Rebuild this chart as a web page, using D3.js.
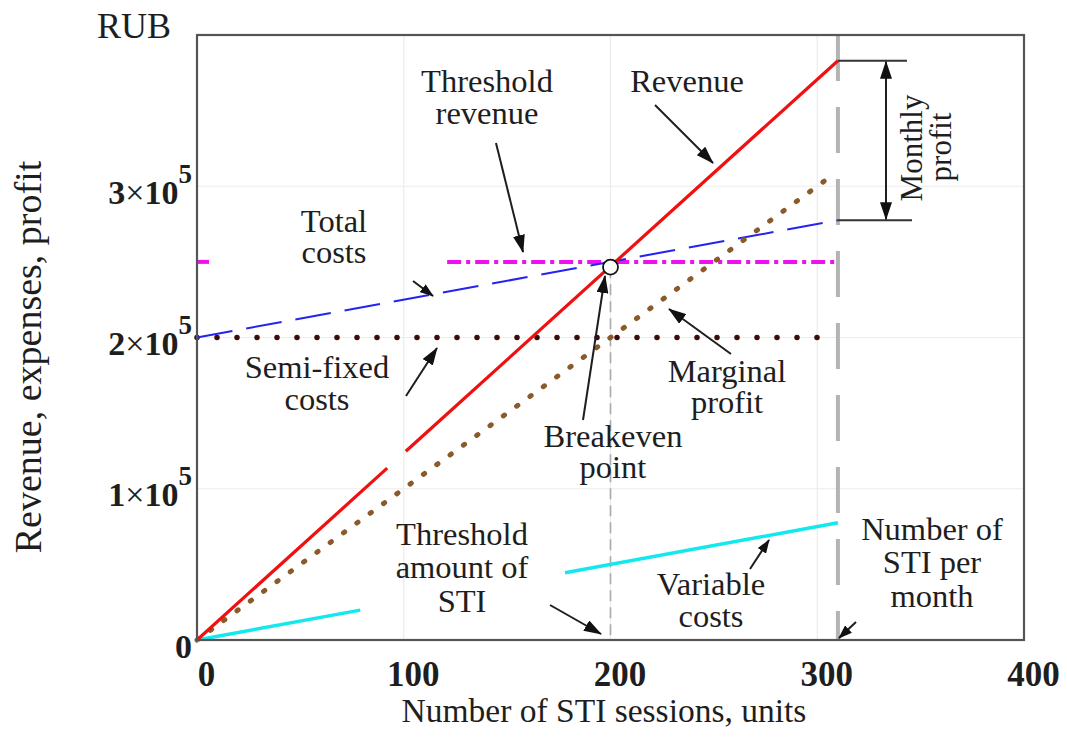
<!DOCTYPE html>
<html><head><meta charset="utf-8">
<script src="https://cdn.jsdelivr.net/npm/d3@7"></script>
<style>
body{margin:0;background:#fff}
svg{display:block}
text{font-family:"Liberation Serif","Times New Roman",serif;fill:#1e1e1e}
</style>
</head><body>
<svg id="c" width="1067" height="737"></svg>
<script>
// ---- data ----
const xTicks = [0, 100, 200, 300, 400];
const yTicks = [0, 100000, 200000, 300000];
const yTickMantissa = ["0", "1", "2", "3"];
const revenue1 = [[0, 0], [92, 113600]];
const revenue2 = [[101, 124800], [310, 383000]];
const totalCosts = [[0, 200000], [310, 277500]];
const thresholdRevenue1 = [[0, 250000], [8, 250000]];
const thresholdRevenue2 = [[121, 250000], [310, 250000]];
const semiFixedCosts = [[0, 200000], [302, 200000]];
const marginalProfit = [[0, 0], [305, 305000]];
const variableCosts1 = [[0, 0], [79, 19750]];
const variableCosts2 = [[178, 44500], [310, 77500]];
const breakeven = [200, 246500];
const monthlySTI = 310;

// ---- setup ----
const svg = d3.select("#c");
const L = 197, R = 1024, T = 35, B = 640;
const x = d3.scaleLinear().domain([0, 400]).range([L, R]);
const y = d3.scaleLinear().domain([0, 400000]).range([B, T]);
const line = d3.line().x(d => x(d[0])).y(d => y(d[1]));

const defs = svg.append("defs");
defs.append("marker").attr("id", "ah")
  .attr("viewBox", "0 0 18 12").attr("markerWidth", 18).attr("markerHeight", 12)
  .attr("refX", 17).attr("refY", 6).attr("orient", "auto-start-reverse")
  .attr("markerUnits", "userSpaceOnUse")
  .append("path").attr("d", "M0,0 L18,6 L0,12 Z").attr("fill", "#111");
defs.append("marker").attr("id", "ahs")
  .attr("viewBox", "0 0 14 10").attr("markerWidth", 14).attr("markerHeight", 10)
  .attr("refX", 13).attr("refY", 5).attr("orient", "auto-start-reverse")
  .attr("markerUnits", "userSpaceOnUse")
  .append("path").attr("d", "M0,0 L14,5 L0,10 Z").attr("fill", "#111");

// grid
const grid = svg.append("g");
grid.selectAll("line.gx").data(xTicks.slice(1, -1)).join("line")
  .attr("x1", d => x(d)).attr("x2", d => x(d)).attr("y1", T).attr("y2", B)
  .attr("stroke", "#ececec").attr("stroke-width", 1.2);
grid.selectAll("line.gy").data(yTicks.slice(1)).join("line")
  .attr("x1", L).attr("x2", R).attr("y1", d => y(d)).attr("y2", d => y(d))
  .attr("stroke", "#ececec").attr("stroke-width", 1.2);

// vertical markers
svg.append("line")
  .attr("x1", x(monthlySTI)).attr("x2", x(monthlySTI)).attr("y1", T).attr("y2", B)
  .attr("stroke", "#b4b4b4").attr("stroke-width", 4).attr("stroke-dasharray", "46 26");
svg.append("line")
  .attr("x1", x(breakeven[0])).attr("x2", x(breakeven[0])).attr("y1", y(breakeven[1])).attr("y2", B)
  .attr("stroke", "#aaa").attr("stroke-width", 1.6).attr("stroke-dasharray", "11 6");

// series
function draw(data, color, width, dash, cap) {
  svg.append("path").datum(data).attr("d", line)
    .attr("fill", "none").attr("stroke", color).attr("stroke-width", width)
    .attr("stroke-dasharray", dash || null).attr("stroke-linecap", cap || "butt");
}
draw(semiFixedCosts, "#3a0c0c", 5.5, "0 20", "round");
draw(thresholdRevenue1, "#ee10ee", 4, "12 5 3 5");
draw(thresholdRevenue2, "#ee10ee", 4, "14 5 4 5");
draw(totalCosts, "#2424f0", 2, "36 14");
draw(marginalProfit, "#8b5a2b", 5, "1.5 15", "round");
draw(variableCosts1, "#12e8ee", 3.5);
draw(variableCosts2, "#12e8ee", 3.5);
draw(revenue1, "#f01010", 3.2);
draw(revenue2, "#f01010", 3.2);

// breakeven point
svg.append("circle").attr("cx", x(breakeven[0])).attr("cy", y(breakeven[1])).attr("r", 7.5)
  .attr("fill", "#fff").attr("stroke", "#111").attr("stroke-width", 1.8);

// frame
svg.append("rect").attr("x", L).attr("y", T).attr("width", R - L).attr("height", B - T)
  .attr("fill", "none").attr("stroke", "#555").attr("stroke-width", 2.2);

// axes
const xa = svg.append("g").attr("transform", `translate(0,${B})`)
  .call(d3.axisBottom(x).tickValues(xTicks).tickSize(0).tickFormat(d3.format("d")));
xa.select(".domain").remove();
xa.selectAll("text").attr("y", 46).attr("dy", 0).attr("dx", 9)
  .style("font-family", '"Liberation Serif",serif').style("font-size", "35px")
  .style("font-weight", "bold").attr("fill", "#1e1e1e");

const ya = svg.append("g").attr("transform", `translate(${L},0)`)
  .call(d3.axisLeft(y).tickValues(yTicks).tickSize(0));
ya.select(".domain").remove();
ya.selectAll("text").attr("x", -5).attr("dy", 0).attr("y", 17)
  .style("font-family", '"Liberation Serif",serif').style("font-size", "34px")
  .style("font-weight", "bold").attr("fill", "#1e1e1e")
  .each(function (d, i) {
    const t = d3.select(this);
    t.text(null);
    if (d === 0) { t.text("0"); return; }
    t.append("tspan").text(yTickMantissa[i]);
    t.append("tspan").text("×").style("font-weight", "normal");
    t.append("tspan").text("10");
    t.append("tspan").text("5").attr("dy", -21).style("font-size", "27px");
  });

// titles
svg.append("text").attr("x", 97).attr("y", 38).style("font-size", "36px").text("RUB");
svg.append("text").attr("x", 604).attr("y", 722).attr("text-anchor", "middle")
  .style("font-size", "33.5px").text("Number of STI sessions, units");
svg.append("text").attr("transform", "translate(41,357) rotate(-90)").attr("text-anchor", "middle")
  .style("font-size", "38px").text("Revenue, expenses, profit");

// annotation labels (multi-line labels as one text element)
function label(lines, cx, baselines) {
  const t = svg.append("text").attr("text-anchor", "middle").style("font-size", "32.5px");
  lines.forEach((s, i) => t.append("tspan").attr("x", cx).attr("y", baselines[i]).text(s));
}
label(["Threshold", "revenue"], 487, [92, 124]);
label(["Revenue"], 687, [92]);
label(["Total", "costs"], 334, [232, 263]);
label(["Semi-fixed", "costs"], 317, [378, 410]);
label(["Breakeven", "point"], 613, [447, 478]);
label(["Marginal", "profit"], 727, [382, 413]);
label(["Threshold", "amount of", "STI"], 462, [545, 578, 612]);
label(["Variable", "costs"], 711, [595, 627]);
label(["Number of", "STI per", "month"], 932, [540, 573, 607]);

// arrows
function arrow(x1, y1, x2, y2, m) {
  svg.append("line").attr("x1", x1).attr("y1", y1).attr("x2", x2).attr("y2", y2)
    .attr("stroke", "#1e1e1e").attr("stroke-width", 2).attr("marker-end", `url(#${m || "ah"})`);
}
arrow(496, 143, 523, 252);
arrow(655, 105, 713, 163);
arrow(413, 281, 433, 296, "ahs");
arrow(406, 396, 437, 348);
arrow(583, 420, 605, 276);
arrow(731, 354, 669, 309);
arrow(550, 605, 601, 634);
arrow(750, 569, 769, 540, "ahs");
arrow(856, 622, 839, 638, "ahs");

// monthly profit dimension
const yTop = y(revenue2[1][1]), yBot = y(totalCosts[1][1]);
svg.append("line").attr("x1", x(monthlySTI)).attr("x2", 907).attr("y1", yTop).attr("y2", yTop)
  .attr("stroke", "#333").attr("stroke-width", 2);
svg.append("line").attr("x1", x(monthlySTI)).attr("x2", 912).attr("y1", yBot).attr("y2", yBot)
  .attr("stroke", "#333").attr("stroke-width", 2);
svg.append("line").attr("x1", 886).attr("x2", 886).attr("y1", yTop + 1).attr("y2", yBot - 1)
  .attr("stroke", "#1e1e1e").attr("stroke-width", 2)
  .attr("marker-start", "url(#ah)").attr("marker-end", "url(#ah)");
const mp = svg.append("text").attr("transform", "translate(0,0) rotate(-90)")
  .attr("text-anchor", "middle").style("font-size", "31px");
mp.append("tspan").attr("x", -148).attr("y", 922).text("Monthly");
mp.append("tspan").attr("x", -147).attr("y", 951).text("profit");
</script>
</body></html>
